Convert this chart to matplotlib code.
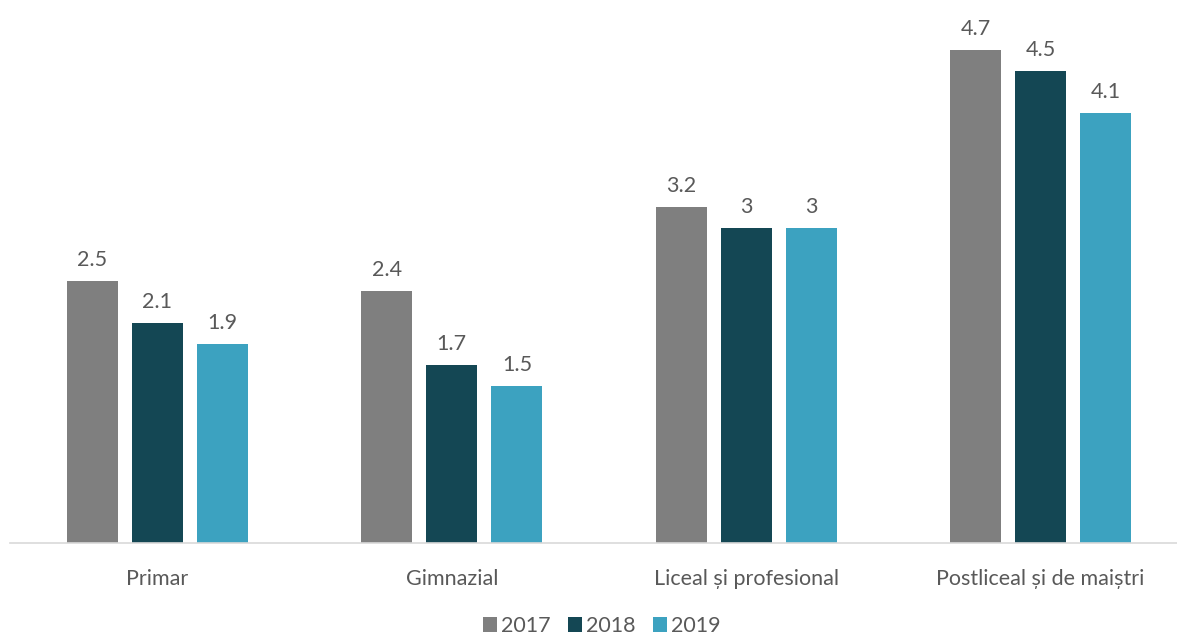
import matplotlib
matplotlib.use("Agg")
import matplotlib.pyplot as plt
import numpy as np

categories = ["Primar", "Gimnazial", "Liceal și profesional", "Postliceal și de maiștri"]
years = ["2017", "2018", "2019"]
v2017 = [2.5, 2.4, 3.2, 4.7]
v2018 = [2.1, 1.7, 3.0, 4.5]
v2019 = [1.9, 1.5, 3.0, 4.1]
colors = ["#7F7F7F", "#144754", "#3CA2C0"]

plt.rcParams['font.family'] = ['Lato', 'DejaVu Sans']
W, H = 1177, 635
fig = plt.figure(figsize=(W/100, H/100), dpi=100)
left = 10.3 / W
width = 1177.4 / W
bottom = 92 / H
height = 524.5 / H
ax = fig.add_axes([left, bottom, width, height])

x = np.arange(len(categories))
bw = 0.173
step = 0.221
text_color = "#595959"
fs = 15.5
for i, (vals, yr) in enumerate(zip([v2017, v2018, v2019], years)):
    bars = ax.bar(x + (i - 1) * step, vals, bw, color=colors[i], label=yr, zorder=2)
    for b, v in zip(bars, vals):
        lbl = f"{v:g}"
        ax.annotate(lbl, (b.get_x() + b.get_width()/2, v), xytext=(0, 8),
                    textcoords="offset points", ha="center", va="bottom",
                    fontsize=fs, color=text_color)

ax.set_xlim(-0.5, 3.5)
ax.set_ylim(0, 5)
ax.set_yticks([])
ax.set_xticks(x)
ax.set_xticklabels(categories, fontsize=fs, color=text_color)
ax.tick_params(axis='x', length=0, pad=19)
for s in ["top", "right", "left"]:
    ax.spines[s].set_visible(False)
ax.spines["bottom"].set_color("#D9D9D9")
ax.spines["bottom"].set_linewidth(1.2)

leg = fig.legend(loc="center", bbox_to_anchor=(602/W, 1 - 626/H), ncol=3, frameon=False,
                 fontsize=fs, handlelength=0.65, handleheight=0.65, handletextpad=0.2,
                 columnspacing=0.8, labelcolor=text_color)

fig.savefig("out.png", dpi=100)
